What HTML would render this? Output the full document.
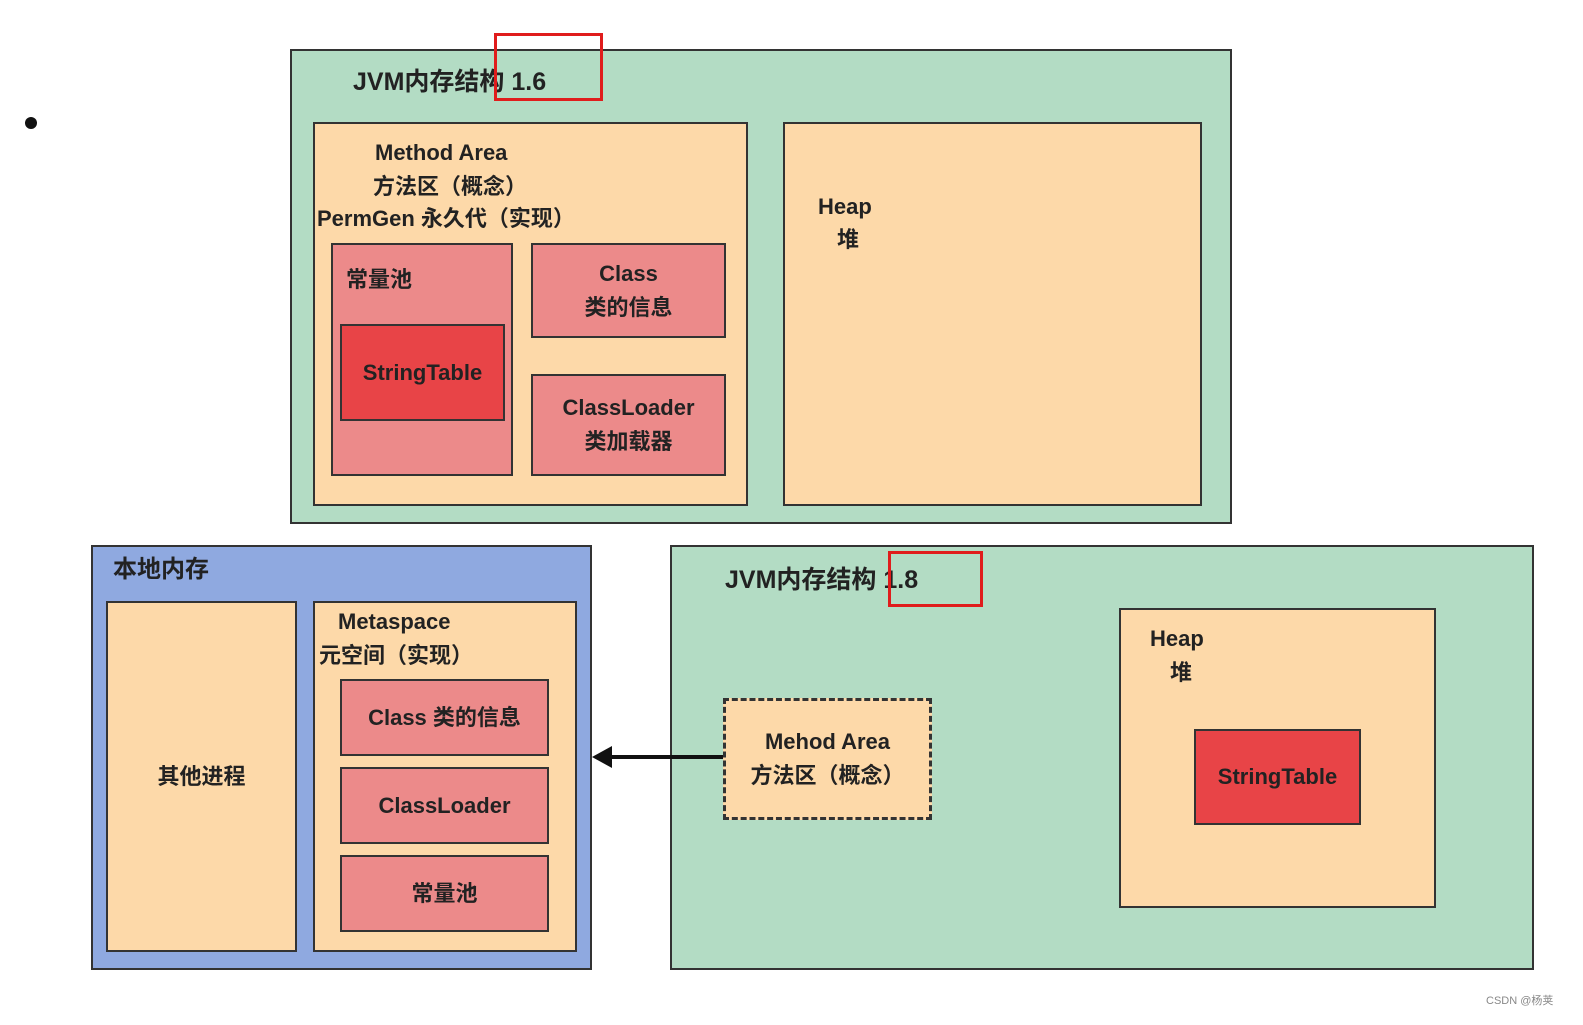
<!DOCTYPE html>
<html><head><meta charset="utf-8"><style>
body{margin:0;width:1583px;height:1025px;background:#fff;position:relative;overflow:hidden;font-family:"Liberation Sans","Noto Sans CJK SC",sans-serif;}
.b{position:absolute;box-sizing:border-box;border:2px solid #333;}
.g{background:#b3dcc4}.p{background:#fdd9a9}.k{background:#ec8a8a}.r{background:#e84447}.bl{background:#8fa9e0}
.t{position:absolute;font-weight:bold;font-size:22px;color:#222;white-space:nowrap;line-height:34px}
.c{display:flex;align-items:center;justify-content:center;text-align:center;font-weight:bold;font-size:22px;color:#222;line-height:34px}
.rr{position:absolute;box-sizing:border-box;border:3px solid #e01c1c;}
</style></head><body>
<div style="position:absolute;left:25px;top:117px;width:12px;height:12px;border-radius:50%;background:#111"></div>

<div class="b g" style="left:290px;top:49px;width:942px;height:475px"></div>
<div class="t" style="left:353px;top:65px;font-size:25px">JVM内存结构 1.6</div>
<div class="b p" style="left:313px;top:122px;width:435px;height:384px"></div>
<div class="t" style="left:375px;top:136px">Method Area</div>
<div class="t" style="left:373px;top:170px">方法区（概念）</div>
<div class="t" style="left:317px;top:202px">PermGen 永久代（实现）</div>
<div class="b k" style="left:331px;top:243px;width:182px;height:233px"></div>
<div class="t" style="left:346px;top:263px">常量池</div>
<div class="b r c" style="left:340px;top:324px;width:165px;height:97px">StringTable</div>
<div class="b k c" style="left:531px;top:243px;width:195px;height:95px">Class<br>类的信息</div>
<div class="b k c" style="left:531px;top:374px;width:195px;height:102px">ClassLoader<br>类加载器</div>
<div class="b p" style="left:783px;top:122px;width:419px;height:384px"></div>
<div class="t" style="left:818px;top:190px">Heap</div>
<div class="t" style="left:837px;top:223px">堆</div>
<div class="rr" style="left:494px;top:33px;width:109px;height:68px"></div>

<div class="b bl" style="left:91px;top:545px;width:501px;height:425px"></div>
<div class="t" style="left:113px;top:553px;font-size:24px">本地内存</div>
<div class="b p c" style="left:106px;top:601px;width:191px;height:351px">其他进程</div>
<div class="b p" style="left:313px;top:601px;width:264px;height:351px"></div>
<div class="t" style="left:338px;top:605px">Metaspace</div>
<div class="t" style="left:319px;top:639px">元空间（实现）</div>
<div class="b k c" style="left:340px;top:679px;width:209px;height:77px">Class 类的信息</div>
<div class="b k c" style="left:340px;top:767px;width:209px;height:77px">ClassLoader</div>
<div class="b k c" style="left:340px;top:855px;width:209px;height:77px">常量池</div>

<div class="b g" style="left:670px;top:545px;width:864px;height:425px"></div>
<div class="t" style="left:725px;top:563px;font-size:25px">JVM内存结构 1.8</div>
<div class="rr" style="left:888px;top:551px;width:95px;height:56px"></div>
<div class="b p c" style="left:723px;top:698px;width:209px;height:122px;border:3px dashed #333">Mehod Area<br>方法区（概念）</div>
<div class="b p" style="left:1119px;top:608px;width:317px;height:300px"></div>
<div class="t" style="left:1150px;top:622px">Heap</div>
<div class="t" style="left:1170px;top:656px">堆</div>
<div class="b r c" style="left:1194px;top:729px;width:167px;height:96px">StringTable</div>

<svg style="position:absolute;left:0;top:0" width="1583" height="1025">
<line x1="723" y1="757" x2="606" y2="757" stroke="#111" stroke-width="4"/>
<polygon points="592,757 612,746 612,768" fill="#111"/>
</svg>
<div style="position:absolute;left:1486px;top:992px;font-size:11px;color:#888">CSDN @杨荚</div>
</body></html>
